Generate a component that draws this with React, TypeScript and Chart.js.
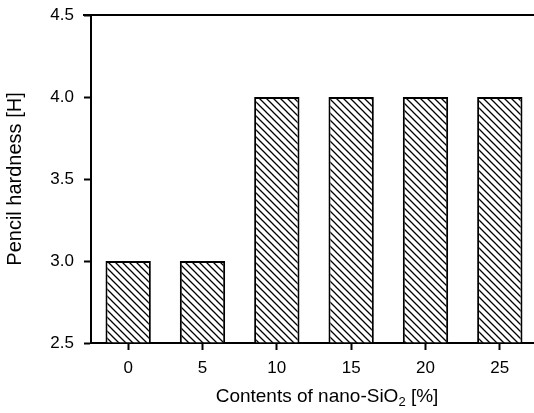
import React, { useEffect, useRef } from "react";
import { Chart, registerables } from "chart.js";

Chart.register(...registerables);

const contents = [0, 5, 10, 15, 20, 25];
const hardness = [3, 3, 4, 4, 4, 4];
const yTicks = [2.5, 3.0, 3.5, 4.0, 4.5];

const FONT = "'Liberation Sans', Arial, Helvetica, sans-serif";

function makeHatch(): CanvasPattern | string {
  const s = 7;
  const c = document.createElement("canvas");
  c.width = s;
  c.height = s;
  const g = c.getContext("2d");
  if (!g) return "#fff";
  g.fillStyle = "#fff";
  g.fillRect(0, 0, s, s);
  g.strokeStyle = "#000";
  g.lineWidth = 1.3;
  g.beginPath();
  g.moveTo(-1, -1);
  g.lineTo(s + 1, s + 1);
  g.moveTo(-1 - s, -1);
  g.lineTo(1, s + 1);
  g.moveTo(s - 1, -1);
  g.lineTo(2 * s + 1, s + 1);
  g.stroke();
  const p = g.createPattern(c, "repeat");
  return p || "#fff";
}

const framePlugin = {
  id: "frame",
  afterDraw(chart: any) {
    const { ctx, chartArea } = chart;
    ctx.save();
    ctx.strokeStyle = "#000";
    ctx.lineWidth = 2;
    ctx.beginPath();
    ctx.moveTo(chartArea.left - 8, chartArea.top);
    ctx.lineTo(chartArea.right + 2, chartArea.top);
    ctx.stroke();
    // x title with subscript
    ctx.fillStyle = "#000";
    ctx.textBaseline = "alphabetic";
    const main = "Contents of nano-SiO";
    const sub = "2";
    const tail = " [%]";
    ctx.font = `19px ${FONT}`;
    const w1 = ctx.measureText(main).width;
    const w3 = ctx.measureText(tail).width;
    ctx.font = `13px ${FONT}`;
    const w2 = ctx.measureText(sub).width;
    const total = w1 + w2 + w3;
    const cx = 327;
    let x = cx - total / 2;
    const base = 402;
    ctx.font = `19px ${FONT}`;
    ctx.fillText(main, x, base);
    x += w1;
    ctx.font = `13px ${FONT}`;
    ctx.fillText(sub, x, base + 4);
    x += w2;
    ctx.font = `19px ${FONT}`;
    ctx.fillText(tail, x, base);
    ctx.restore();
  },
};

export default function App() {
  const ref = useRef<HTMLCanvasElement | null>(null);
  useEffect(() => {
    if (!ref.current) return;
    const hatch = makeHatch();
    const chart = new Chart(ref.current, {
      type: "bar",
      data: {
        datasets: [
          {
            data: contents.map((c, i) => ({ x: c, y: hardness[i] })),
            backgroundColor: hatch as any,
            borderColor: "#000",
            borderWidth: 2,
            borderSkipped: "bottom",
            base: 2.5,
            barPercentage: 0.61,
            categoryPercentage: 1,
          } as any,
        ],
      },
      options: {
        animation: false,
        responsive: false,
        maintainAspectRatio: false,
        layout: { padding: { top: 15, right: 0, left: 0, bottom: 0 } },
        plugins: { legend: { display: false }, tooltip: { enabled: false } },
        scales: {
          x: {
            type: "linear",
            offset: false,
            min: -2.5,
            max: 27.3,
            afterBuildTicks(scale: any) {
              scale.ticks = contents.map((v) => ({ value: v }));
            },
            afterFit(scale: any) {
              scale.height = 70;
              scale.paddingRight = 0;
              scale.paddingLeft = 0;
            },
            grid: {
              display: true,
              offset: false,
              drawOnChartArea: false,
              drawTicks: true,
              tickLength: 7,
              tickWidth: 2,
              tickColor: "#000",
              color: "#000",
            },
            border: { display: true, color: "#000", width: 2 },
            ticks: {
              color: "#000",
              font: { family: FONT, size: 17 },
              padding: 8,
              autoSkip: false,
              maxRotation: 0,
              callback: (v: any) => String(v),
            },
            title: { display: false },
          },
          y: {
            min: 2.5,
            max: 4.5,
            afterBuildTicks(scale: any) {
              scale.ticks = yTicks.map((v) => ({ value: v }));
            },
            afterFit(scale: any) {
              scale.width = 91;
              scale.paddingTop = 0;
              scale.paddingBottom = 0;
            },
            grid: {
              display: true,
              drawOnChartArea: false,
              drawTicks: true,
              tickLength: 7,
              tickWidth: 2,
              tickColor: "#000",
              color: "#000",
            },
            border: { display: true, color: "#000", width: 2 },
            ticks: {
              color: "#000",
              font: { family: FONT, size: 17 },
              padding: 10,
              callback: (v: any) => Number(v).toFixed(1),
            },
            title: {
              display: true,
              text: "Pencil hardness [H]",
              color: "#000",
              font: { family: FONT, size: 20 },
              padding: { top: 3, bottom: 10 },
            },
          },
        },
      },
      plugins: [framePlugin],
    });
    return () => chart.destroy();
  }, []);
  return (
    <div style={{ position: "fixed", left: 0, top: 0, width: 534, height: 413, background: "#fff" }}>
      <canvas ref={ref} width={534} height={413} style={{ width: 534, height: 413, display: "block" }} />
    </div>
  );
}
